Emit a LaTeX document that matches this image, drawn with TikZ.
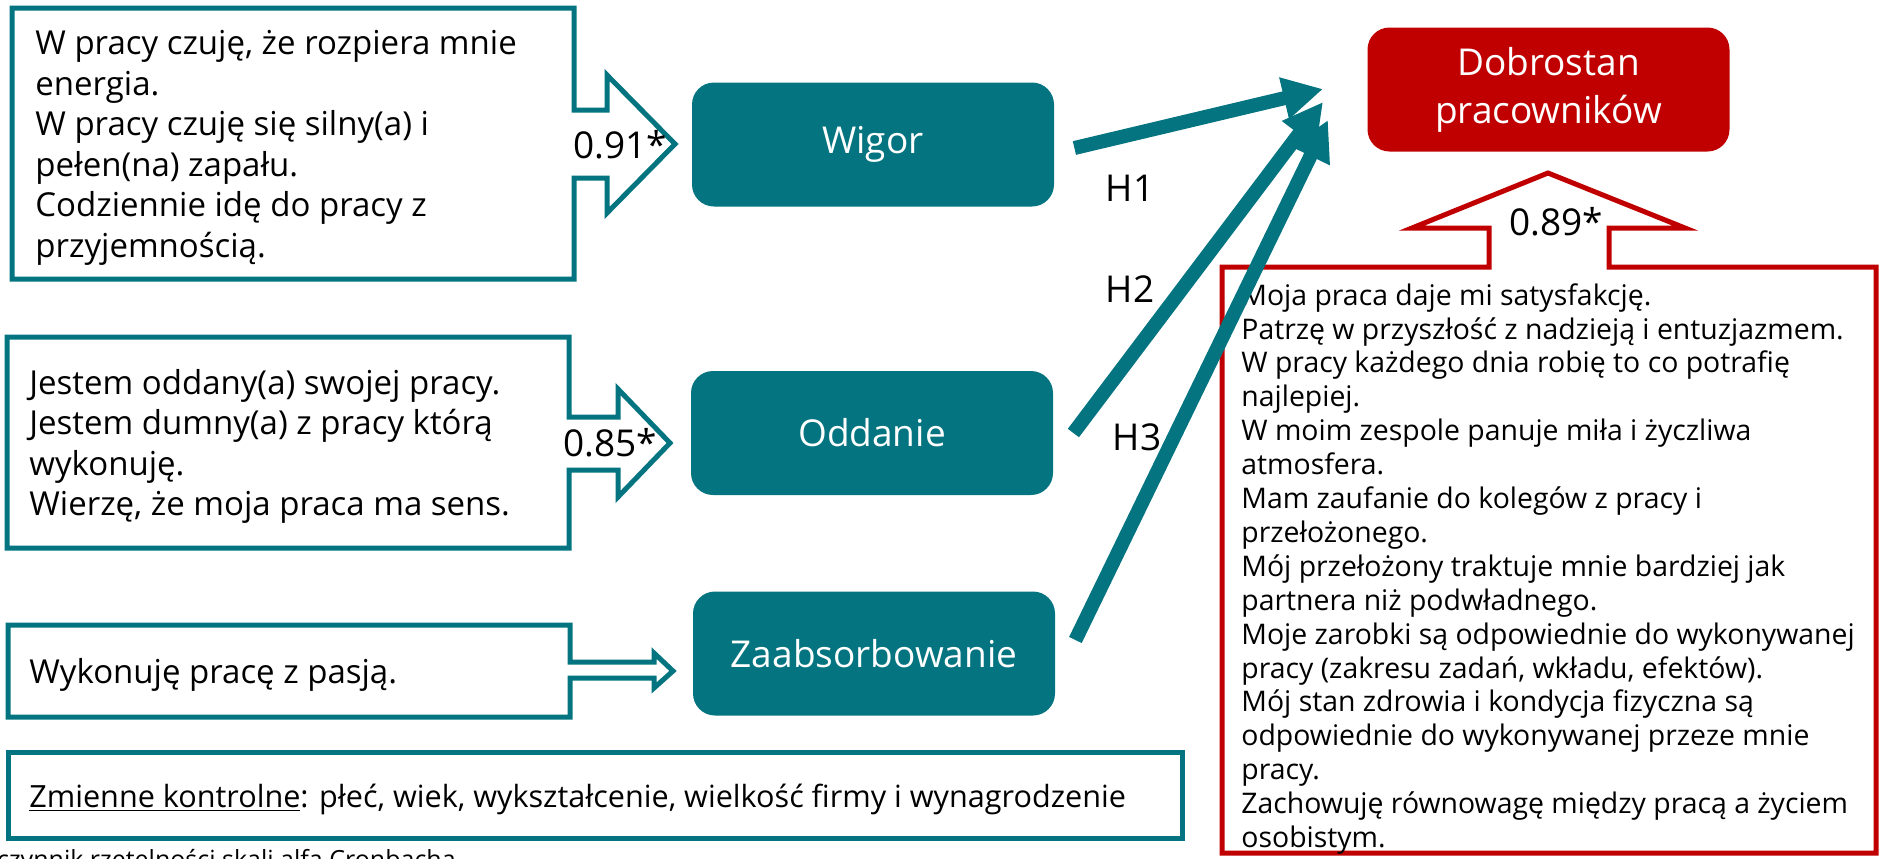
\documentclass[tikz,border=0pt]{standalone}
\usepackage{fontspec}
\setmainfont{Open Sans}
\usetikzlibrary{arrows.meta}
\definecolor{petrol}{RGB}{3,116,128}
\definecolor{czerwien}{RGB}{192,0,0}

\begin{document}
\begin{tikzpicture}[x=0.5pt,y=-0.5pt,
  czynnik/.style={fill=petrol,rounded corners=11pt,minimum width=181pt,minimum height=62pt,inner sep=0pt,text=white,align=center,font=\fontsize{18.5}{24}\selectfont},
  ramka/.style={draw=petrol,line width=2.5pt},
  opis/.style={anchor=north west,align=left,inner sep=0pt,font=\fontsize{16.5}{20.25}\selectfont},
  liczba/.style={inner sep=0pt,font=\fontsize{18.5}{22}\selectfont},
  hipoteza/.style={draw=petrol,line width=7pt,-{Triangle[length=20pt 0,width=20pt 0]}}]
\useasboundingbox (0,0) rectangle (1881,858);
\clip (0,0) rectangle (1881,858);

\draw[ramka] (12,8) -- (574,8) -- (574,110) -- (607,110) -- (607,75) -- (675,144) -- (607,213) -- (607,178) -- (574,178) -- (574,279) -- (12,279) -- cycle;
\draw[ramka] (7,337) -- (569,337) -- (569,417) -- (618,417) -- (618,389) -- (670,443) -- (618,497) -- (618,470) -- (569,470) -- (569,548) -- (7,548) -- cycle;
\draw[ramka] (8,625) -- (570,625) -- (570,662) -- (654,662) -- (654,653) -- (673,671) -- (654,688) -- (654,678) -- (570,678) -- (570,717) -- (8,717) -- cycle;
\draw[ramka] (8,752) rectangle (1182,838);
\draw[draw=czerwien,line width=2.5pt] (1222,267) -- (1489,267) -- (1489,228) -- (1412,228) -- (1548,173) -- (1685,228) -- (1609,228) -- (1609,267) -- (1876,267) -- (1876,853) -- (1222,853) -- cycle;

\path (35,30) node[opis] (opis-wig) {W pracy czuję, że rozpiera mnie\\energia.\\W pracy czuję się silny(a) i\\pełen(na) zapału.\\Codziennie idę do pracy z\\przyjemnością.};
\path (29,369) node[opis] (opis-odd) {Jestem oddany(a) swojej pracy.\\Jestem dumny(a) z pracy którą\\wykonuję.\\Wierzę, że moja praca ma sens.};
\path (29,683) node[opis,anchor=base west] (opis-zab) {Wykonuję pracę z pasją.};
\path (29,807) node[opis,anchor=base west,font=\fontsize{15.3}{19}\selectfont] (kontrolne) {\underline{Zmienne kontrolne}: płeć, wiek, wykształcenie, wielkość firmy i wynagrodzenie};
\path (1241,283) node[opis,font=\fontsize{14.2}{16.95}\selectfont] (opis-dob) {Moja praca daje mi satysfakcję.\\Patrzę w przyszłość z nadzieją i entuzjazmem.\\W pracy każdego dnia robię to co potrafię\\najlepiej.\\W moim zespole panuje miła i życzliwa\\atmosfera.\\Mam zaufanie do kolegów z pracy i\\przełożonego.\\Mój przełożony traktuje mnie bardziej jak\\partnera niż podwładnego.\\Moje zarobki są odpowiednie do wykonywanej\\pracy (zakresu zadań, wkładu, efektów).\\Mój stan zdrowia i kondycja fizyczna są\\odpowiednie do wykonywanej przeze mnie\\pracy.\\Zachowuję równowagę między pracą a życiem\\osobistym.};
\path (456,868) node[anchor=base east,inner sep=0pt,font=\fontsize{12.5}{15}\selectfont] (zrodlo) {*Współczynnik rzetelności skali alfa Cronbacha};

\path (873,144.5) node[czynnik] (wig) {Wigor};
\path (872,433) node[czynnik] (odd) {Oddanie};
\path (874,653.5) node[czynnik] (zab) {Zaabsorbowanie};
\path (1548.5,89.5) node[czynnik,fill=czerwien] (dob) {Dobrostan\\pracowników};

\path (620,145) node[liczba] (a-wig) {0.91*};
\path (610,443) node[liczba] (a-odd) {0.85*};
\path (1556,222) node[liczba] (a-dob) {0.89*};

\coordinate (k1) at (1323,89);
\coordinate (k2) at (1323,102);
\coordinate (k3) at (1328,120);
\draw[hipoteza] ([xshift=10pt,yshift=-1.75pt]wig.east) -- (k1);
\draw[hipoteza] ([xshift=10pt]odd.east) -- (k2);
\draw[hipoteza] ([xshift=10pt,yshift=6.75pt]zab.east) -- (k3);

\path (1130,188) node[liczba] (h1) {H1};
\path (1130,289) node[liczba] (h2) {H2};
\path (1137,437) node[liczba] (h3) {H3};

\end{tikzpicture}
\end{document}
